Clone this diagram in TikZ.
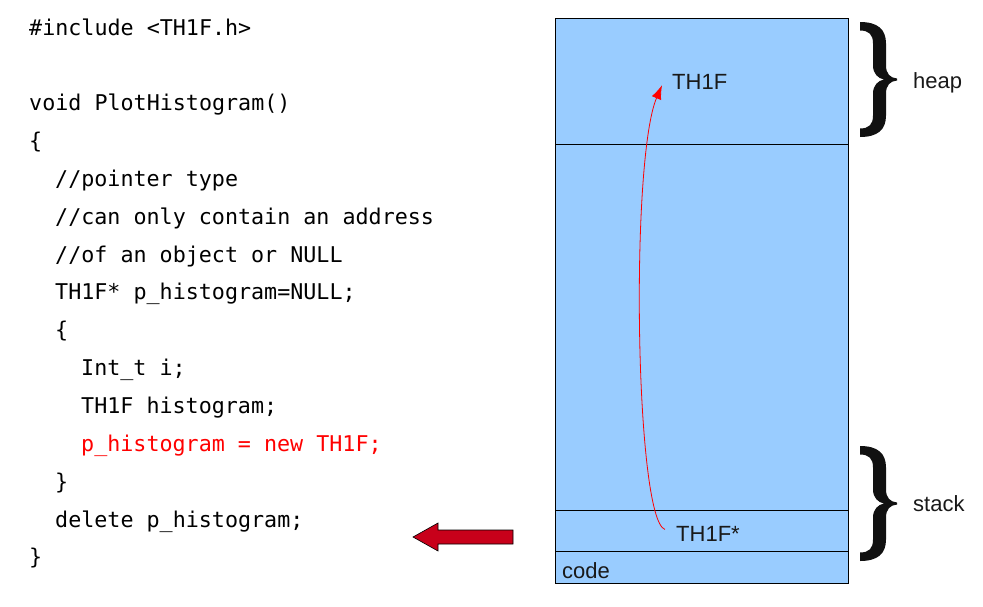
\documentclass[tikz,border=0pt]{standalone}
\usepackage{fontspec}
\setmainfont{Liberation Sans}
\setmonofont{DejaVu Sans Mono}
\usetikzlibrary{arrows.meta}
\definecolor{memblue}{HTML}{99CCFF}
\definecolor{blockred}{HTML}{C8001A}
\definecolor{codered}{HTML}{FF0000}
\definecolor{bracecol}{HTML}{111111}
\begin{document}
\begin{tikzpicture}[x=1pt,y=-1pt,
  codeline/.style={anchor=base west,inner sep=0pt,font=\fontsize{21.7}{24}\selectfont\ttfamily,text=black},
  lbl/.style={anchor=base west,inner sep=0pt,font=\fontsize{22}{26}\selectfont,text=black!90},
  region/.style={draw=black,line width=1pt,fill=memblue,anchor=north west,inner sep=0pt,outer sep=0pt,minimum width=293pt},
  curly/.pic={
    \fill[bracecol] (0,-57.5) .. controls (18,-57.5) and (26,-50) .. (26,-36) -- (26,-14)
      .. controls (26,-6) and (30,-1.5) .. (37,-1) -- (37,1)
      .. controls (30,1.5) and (26,6) .. (26,14) -- (26,36)
      .. controls (26,50) and (18,57.5) .. (0,57.5) -- (0,49)
      .. controls (9,49) and (13,45) .. (13,36) -- (13,14)
      .. controls (13,6) and (18,1) .. (24,0)
      .. controls (18,-1) and (13,-6) .. (13,-14) -- (13,-36)
      .. controls (13,-45) and (9,-49) .. (0,-49) -- cycle;
  }]
\useasboundingbox (0,0) rectangle (983,606);
% code
\def\ls{37.85}
\node[codeline] (c0) at (29,35) {\#include <TH1F.h>};
\node[codeline] (c2) at (29,35+2*\ls) {void PlotHistogram()};
\node[codeline] (c3) at (29,35+3*\ls) {\{};
\node[codeline] (c4) at (55,35+4*\ls) {//pointer type};
\node[codeline] (c5) at (55,35+5*\ls) {//can only contain an address};
\node[codeline] (c6) at (55,35+6*\ls) {//of an object or NULL};
\node[codeline] (c7) at (55,35+7*\ls) {TH1F* p\_histogram=NULL;};
\node[codeline] (c8) at (55,35+8*\ls) {\{};
\node[codeline] (c9) at (81,35+9*\ls) {Int\_t i;};
\node[codeline] (c10) at (81,35+10*\ls) {TH1F histogram;};
\node[codeline,text=codered] (c11) at (81,35+11*\ls) {p\_histogram = new TH1F;};
\node[codeline] (c12) at (55,35+12*\ls) {\}};
\node[codeline] (c13) at (55,35+13*\ls) {delete p\_histogram;};
\node[codeline] (c14) at (29,35+14*\ls) {\}};
% memory
\node[region,minimum height=126pt] (heap) at (555,18) {};
\node[region,minimum height=366pt] (free) at (555,144) {};
\node[region,minimum height=41pt] (stack) at (555,510) {};
\node[region,minimum height=32pt] (code) at (555,551) {};
\node[lbl] (th1f) at (672,89) {TH1F};
\node[lbl] (th1fstar) at (676,541) {TH1F*};
\node[lbl] (codelbl) at (562,578) {code};
\node[lbl] (heaplbl) at (913,88) {heap};
\node[lbl] (stacklbl) at (913,511) {stack};
% braces
\pic at (860,79.5) {curly};
\pic at (860,503.5) {curly};
% pointer arrow
\draw[codered,line width=0.8pt,-{Latex[length=14pt,width=10pt]}]
  ([xshift=-11pt,yshift=4pt]th1fstar.west) .. controls (635,520) and (630,160) .. ([xshift=-10pt,yshift=4pt]th1f.south west);
% block arrow
\filldraw[fill=blockred,draw=black,line width=0.6pt]
  (413,537) -- (438,523) -- (438,530) -- (513,530) -- (513,544) -- (438,544) -- (438,551) -- cycle;
\end{tikzpicture}
\end{document}
